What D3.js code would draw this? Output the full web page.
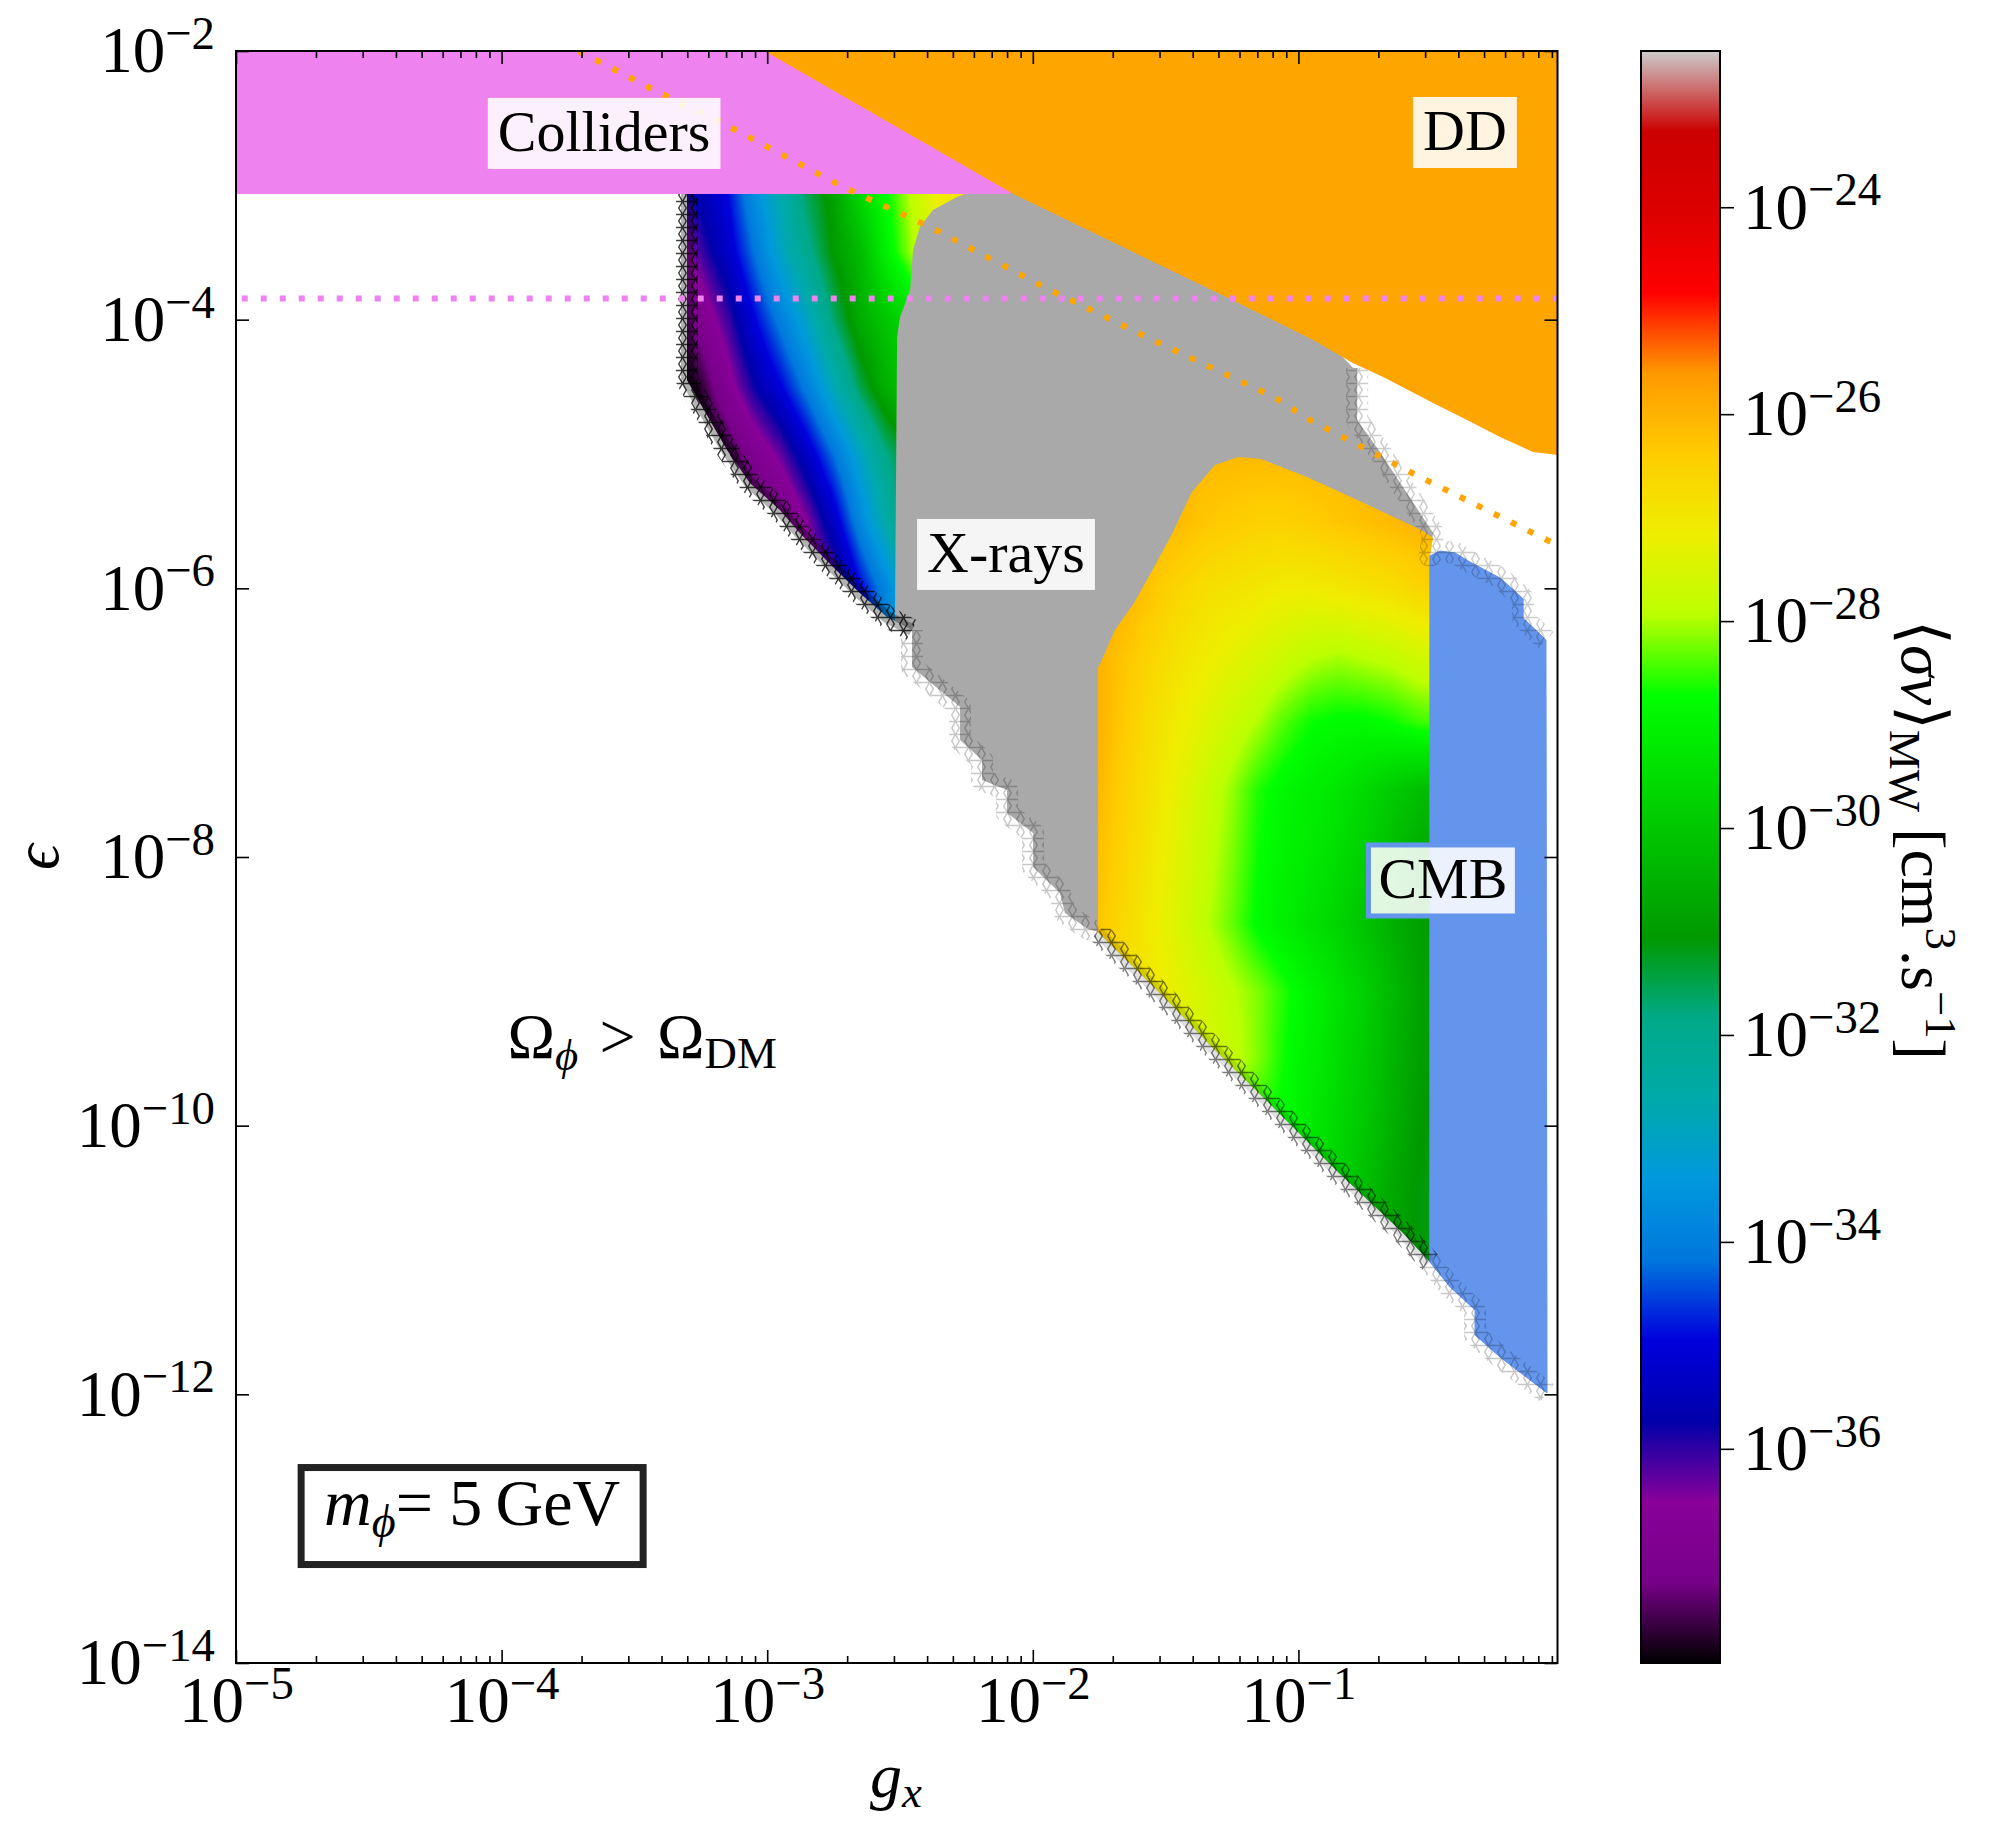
<!DOCTYPE html>
<html>
<head>
<meta charset="utf-8" />
<title>sigma v scan, m_phi = 5 GeV</title>
<script src="https://cdnjs.cloudflare.com/ajax/libs/d3/7.8.5/d3.min.js"></script>
<style>
  body { margin: 0; background: white; }
  svg text { font-family: 'Liberation Serif', 'DejaVu Serif', serif; fill: #000; }
  .axis text { font-size: 65px; }
  .axis line { stroke-width: 1.6px; }
  .label { font-size: 58px; }
  .big { font-size: 64px; }
</style>
</head>
<body>
<svg id="chart" width="1998" height="1830"></svg>
<script>
// ---------- data: pairs are [log10 g_x, log10 epsilon] ----------
const gxLim = [1e-5, 0.945]
const epsLim = [1e-14, 1e-2]
const svLim = [-38.07, -22.49]          // log10 <sigma v> range of the colour bar

const xMajor = [-5, -4, -3, -2, -1]
const yMajor = [-14, -12, -10, -8, -6, -4, -2]
const cbarMajor = [-36, -34, -32, -30, -28, -26, -24]

const colliderEdge = -3.065             // colliders exclude eps above this
const violetLine = -3.842               // dotted collider projection

// direct detection lower edge
const ddEdge = [[-3.01, -2.0], [-2.075, -3.062], [-1.284, -3.821], [-0.945, -4.151], [-0.795, -4.323],
  [-0.681, -4.427], [-0.493, -4.620], [-0.365, -4.747], [-0.241, -4.873], [-0.117, -4.985], [-0.024, -5.008]]

// dotted direct detection projection
const ddProj = [[-3.71, -2.0], [-3.449, -2.268], [-3.140, -2.566], [-2.715, -3.012], [-2.387, -3.310],
  [-1.958, -3.757], [-1.525, -4.174], [-1.092, -4.576], [-0.956, -4.747], [-0.580, -5.134], [-0.026, -5.678]]

// relic density band: upper side (tucked under the DD region)
const bandTop = [[-3.302, -3.065], [-2.09, -3.065], [-2.03, -3.02], [-1.284, -3.78], [-0.87, -4.20], [-0.794, -4.360]]
const edgeUpper = [[-0.779, -4.360], [-0.779, -4.747], [-0.693, -4.985], [-0.599, -5.268], [-0.493, -5.588]]
const cmbOuter = [[-0.505, -5.759], [-0.467, -5.722], [-0.410, -5.737], [-0.354, -5.804], [-0.241, -5.923],
  [-0.177, -6.035], [-0.154, -6.079], [-0.154, -6.221], [-0.068, -6.385], [-0.064, -11.990]]

// relic density band: lower side (where Omega_phi = Omega_DM)
const edgeDark = [[-3.302, -3.065], [-3.302, -4.449], [-3.253, -4.620], [-3.151, -4.970], [-3.065, -5.216],
  [-2.952, -5.417], [-2.877, -5.588], [-2.752, -5.841], [-2.651, -6.035], [-2.549, -6.213], [-2.455, -6.310]]
const edgeFaint = [[-2.455, -6.310], [-2.455, -6.585], [-2.274, -6.883], [-2.274, -7.129], [-2.191, -7.278],
  [-2.191, -7.427], [-2.097, -7.501], [-2.097, -7.672], [-1.999, -7.821], [-1.999, -8.074], [-1.898, -8.268],
  [-1.879, -8.417], [-1.792, -8.536], [-1.755, -8.558]]
const edgeB = [[-1.755, -8.558], [-1.502, -9.049], [-1.333, -9.399], [-1.092, -9.868], [-0.851, -10.345],
  [-0.610, -10.791], [-0.505, -11.015]]
const edgeCmb = [[-0.505, -11.015], [-0.429, -11.201], [-0.335, -11.372], [-0.335, -11.558], [-0.241, -11.722],
  [-0.064, -11.990]]

// allowed islands, outside the X-ray bound
const regionARight = [[-2.519, -6.24], [-2.511, -4.129], [-2.500, -3.980], [-2.462, -3.779], [-2.451, -3.481],
  [-2.425, -3.310], [-2.376, -3.184], [-2.285, -3.087], [-2.255, -3.065]]
const regionBTop = [[-1.755, -6.593], [-1.740, -6.533], [-1.691, -6.310], [-1.619, -6.109], [-1.547, -5.856],
  [-1.476, -5.595], [-1.401, -5.283], [-1.314, -5.082], [-1.227, -5.022], [-1.141, -5.037], [-0.968, -5.171],
  [-0.753, -5.365], [-0.538, -5.566], [-0.493, -5.625], [-0.505, -5.759]]

// log10 <sigma v>_MW on the left island
const gridAx = [-3.35, -3.25, -3.15, -3.05, -2.95, -2.85, -2.75, -2.65, -2.55, -2.45, -2.35, -2.25]
const gridAy = [-3.0, -3.5, -4.0, -4.5, -5.0, -5.5, -6.0, -6.5]
const gridAv = [
  [-36.0, -35.5, -34.9, -33.6, -32.6, -31.5, -30.8, -29.5, -28.7, -27.8, -27.0, -26.8],
  [-37.0, -36.1, -35.3, -34.2, -33.0, -32.0, -31.0, -30.3, -29.0, -28.0, -27.5, -27.2],
  [-37.9, -37.0, -36.1, -35.0, -34.0, -33.0, -31.7, -30.6, -30.0, -29.5, -29.0, -28.8],
  [-38.1, -37.8, -36.8, -35.8, -35.0, -34.0, -32.8, -31.5, -30.5, -30.0, -29.5, -29.3],
  [-38.1, -38.1, -37.8, -37.0, -36.3, -35.3, -34.2, -33.0, -31.8, -31.0, -30.5, -30.3],
  [-38.1, -38.1, -38.0, -37.8, -37.5, -36.5, -35.3, -33.8, -32.5, -31.5, -31.0, -30.8],
  [-38.1, -38.1, -38.0, -37.8, -37.5, -37.0, -36.5, -35.0, -33.8, -32.5, -32.0, -31.8],
  [-38.1, -38.1, -38.0, -37.8, -37.5, -37.0, -36.5, -35.5, -34.0, -33.0, -32.5, -32.3]
]

// log10 <sigma v>_MW on the right island
const gridBx = [-1.85, -1.75, -1.65, -1.55, -1.45, -1.35, -1.25, -1.15, -1.05, -0.95, -0.85, -0.75, -0.65, -0.55, -0.45]
const gridBy = [-5.0, -5.5, -6.0, -6.5, -7.0, -7.5, -8.0, -8.5, -9.0, -9.5, -10.0, -10.5, -11.0, -11.5]
const gridBv = [
  [-26.0, -26.0, -26.0, -26.1, -26.1, -26.1, -26.1, -26.1, -26.1, -26.1, -26.1, -26.0, -26.0, -26.0, -26.0],
  [-26.0, -26.0, -26.0, -26.1, -26.1, -26.3, -26.4, -26.5, -26.5, -26.4, -26.3, -26.2, -26.1, -26.0, -26.0],
  [-25.9, -25.9, -26.0, -26.3, -26.6, -26.8, -26.9, -27.0, -27.1, -27.1, -27.0, -26.9, -26.8, -26.6, -26.5],
  [-26.0, -26.0, -26.3, -26.6, -26.9, -27.1, -27.3, -27.5, -27.7, -27.9, -28.0, -27.9, -27.8, -27.6, -27.5],
  [-26.0, -26.0, -26.4, -26.8, -27.1, -27.4, -27.7, -28.0, -28.4, -28.7, -28.8, -28.8, -28.7, -28.5, -28.4],
  [-26.0, -26.1, -26.5, -26.9, -27.3, -27.7, -28.1, -28.6, -28.9, -29.1, -29.3, -29.6, -29.9, -30.2, -30.3],
  [-26.0, -26.2, -26.6, -27.0, -27.4, -27.8, -28.2, -28.7, -29.0, -29.2, -29.5, -29.8, -30.2, -30.6, -30.8],
  [-26.2, -26.3, -26.7, -27.1, -27.5, -27.9, -28.3, -28.8, -29.1, -29.4, -29.7, -30.1, -30.5, -30.9, -31.0],
  [-26.5, -26.7, -26.9, -27.0, -27.3, -27.6, -27.9, -28.2, -28.6, -29.0, -29.4, -29.8, -30.3, -30.8, -31.0],
  [-27.0, -27.1, -27.2, -27.3, -27.4, -27.5, -27.8, -28.2, -28.7, -29.1, -29.5, -29.9, -30.4, -30.9, -31.1],
  [-27.5, -27.6, -27.7, -27.8, -28.0, -28.2, -28.4, -28.6, -28.8, -29.2, -29.6, -30.0, -30.5, -31.0, -31.2],
  [-28.0, -28.1, -28.2, -28.3, -28.5, -28.7, -28.9, -29.1, -29.4, -29.6, -29.8, -30.2, -30.7, -31.1, -31.2],
  [-28.5, -28.6, -28.7, -28.8, -29.0, -29.2, -29.4, -29.6, -29.8, -30.0, -30.2, -30.5, -30.8, -31.1, -31.2],
  [-28.5, -28.6, -28.7, -28.8, -29.0, -29.2, -29.4, -29.6, -29.8, -30.0, -30.2, -30.5, -30.8, -31.1, -31.2]
]

// nipy_spectral colour map
const nipy = [[0, 0, 0, 0], [0.05, .4667, 0, .5333], [0.1, .5333, 0, .6], [0.15, 0, 0, .6667],
  [0.2, 0, 0, .8667], [0.25, 0, .4667, .8667], [0.3, 0, .6, .8667], [0.35, 0, .6667, .6667],
  [0.4, 0, .6667, .5333], [0.45, 0, .6, 0], [0.5, 0, .7333, 0], [0.55, 0, .8667, 0], [0.6, 0, 1, 0],
  [0.65, .7333, 1, 0], [0.7, .9333, .9333, 0], [0.75, 1, .8, 0], [0.8, 1, .6, 0], [0.85, 1, 0, 0],
  [0.9, .8667, 0, 0], [0.95, .8, 0, 0], [1, .8, .8, .8]]

// ---------- scales ----------
const svg = d3.select('#chart')
const defs = svg.append('defs')

const x = d3.scaleLog().domain(gxLim).range([236, 1557.5])
const y = d3.scaleLog().domain(epsLim).range([1663, 51])
const cb = d3.scaleLog().domain(svLim.map(p => 10 ** p)).range([1663, 51])

const px = d => x(10 ** d[0])
const py = d => y(10 ** d[1])
const line = d3.line().x(px).y(py)
const shape = pts => line(pts) + 'Z'

function cmap(t) {
  t = Math.max(0, Math.min(1, t))
  const i = Math.min(nipy.length - 2, Math.floor(t / 0.05))
  const a = nipy[i], b = nipy[i + 1], f = (t - a[0]) / (b[0] - a[0])
  return [1, 2, 3].map(k => Math.round(255 * (a[k] + f * (b[k] - a[k]))))
}

defs.append('clipPath').attr('id', 'plotArea').append('rect')
  .attr('x', x.range()[0]).attr('y', y.range()[1])
  .attr('width', x.range()[1] - x.range()[0])
  .attr('height', y.range()[0] - y.range()[1])

// tiled asterisks used to paint the scan points along the band edge
const starTile = defs.append('pattern').attr('id', 'stars')
  .attr('patternUnits', 'userSpaceOnUse').attr('width', 13).attr('height', 13)
starTile.append('path')
  .attr('d', d3.range(3).map(k => {
    const a = k * Math.PI / 3, r = 8
    return 'M' + (6.5 - r * Math.cos(a)) + ',' + (6.5 - r * Math.sin(a)) + 'L' + (6.5 + r * Math.cos(a)) + ',' + (6.5 + r * Math.sin(a))
  }).join(''))
  .attr('stroke', '#000').attr('stroke-width', 1.4)

const plot = svg.append('g').attr('clip-path', 'url(#plotArea)')
const lo = Math.log10(gxLim[0]) - 0.05, hi = Math.log10(gxLim[1]) + 0.05

// colliders
plot.append('path')
  .attr('d', shape([[lo, -1.9], [hi, -1.9], [hi, colliderEdge], [lo, colliderEdge]]))
  .attr('fill', 'violet')

// X-ray excluded part of the band (gray), islands drawn on top
const lower = edgeDark.concat(edgeFaint.slice(1), edgeB.slice(1), edgeCmb.slice(1))
const band = bandTop.concat(edgeUpper, cmbOuter, lower.slice().reverse())
plot.append('path').attr('d', shape(band)).attr('fill', 'darkgray')

function sample(gx, gy, gv, lx, ly) {
  let i = Math.max(0, Math.min(gx.length - 2, d3.bisectRight(gx, lx) - 1))
  let j = 0
  while (j < gy.length - 2 && ly < gy[j + 1]) j++
  const fx = Math.max(0, Math.min(1, (lx - gx[i]) / (gx[i + 1] - gx[i])))
  const fy = Math.max(0, Math.min(1, (gy[j] - ly) / (gy[j] - gy[j + 1])))
  const t = gv[j][i] * (1 - fx) + gv[j][i + 1] * fx
  const b = gv[j + 1][i] * (1 - fx) + gv[j + 1][i + 1] * fx
  return t * (1 - fy) + b * fy
}

function heat(gx, gy, gv, poly, id) {
  const x0 = Math.floor(x(10 ** gx[0])), x1 = Math.ceil(x(10 ** gx[gx.length - 1]))
  const y0 = Math.floor(y(10 ** gy[0])), y1 = Math.ceil(y(10 ** gy[gy.length - 1]))
  const w = x1 - x0, h = y1 - y0
  const canvas = document.createElement('canvas')
  canvas.width = w
  canvas.height = h
  const ctx = canvas.getContext('2d')
  const img = ctx.createImageData(w, h)
  for (let r = 0; r < h; r++) {
    const ly = Math.log10(y.invert(y0 + r + 0.5))
    for (let c = 0; c < w; c++) {
      const lx = Math.log10(x.invert(x0 + c + 0.5))
      const v = sample(gx, gy, gv, lx, ly)
      const rgb = cmap((v - svLim[0]) / (svLim[1] - svLim[0]))
      const k = 4 * (r * w + c)
      img.data[k] = rgb[0]
      img.data[k + 1] = rgb[1]
      img.data[k + 2] = rgb[2]
      img.data[k + 3] = 255
    }
  }
  ctx.putImageData(img, 0, 0)
  defs.append('clipPath').attr('id', id).append('path').attr('d', shape(poly))
  plot.append('image')
    .attr('x', x0).attr('y', y0).attr('width', w).attr('height', h)
    .attr('preserveAspectRatio', 'none')
    .attr('href', canvas.toDataURL())
    .attr('clip-path', 'url(#' + id + ')')
}

heat(gridAx, gridAy, gridAv, edgeDark.slice(0, -1).concat(regionARight), 'clipA')
heat(gridBx, gridBy, gridBv, regionBTop.concat(edgeB.slice().reverse()), 'clipB')

// CMB
plot.append('path')
  .attr('d', shape(cmbOuter.concat(edgeCmb.slice().reverse())))
  .attr('fill', 'cornflowerblue')
  .attr('stroke', 'cornflowerblue').attr('stroke-width', 1)

// direct detection
const dd = ddEdge.concat([[hi, ddEdge[ddEdge.length - 1][1]], [hi, -1.9], [ddEdge[0][0], -1.9]])
plot.append('path').attr('d', shape(dd)).attr('fill', 'orange')

// scan points on the relic density boundary
const edges = [
  { pts: edgeDark, op: 0.75, shade: 0.3 },
  { pts: edgeFaint, op: 0.22, shade: 0 },
  { pts: edgeB, op: 0.5, shade: 0.12 },
  { pts: edgeCmb, op: 0.22, shade: 0 },
  { pts: edgeUpper.concat(cmbOuter.slice(0, -1)), op: 0.2, shade: 0 }
]
edges.forEach(e => {
  plot.append('path')
    .attr('d', line(e.pts))
    .attr('fill', 'none')
    .attr('stroke', '#000')
    .attr('stroke-opacity', e.shade)
    .attr('stroke-width', 12)
  plot.append('path')
    .attr('d', line(e.pts))
    .attr('fill', 'none')
    .attr('stroke', 'url(#stars)')
    .attr('stroke-opacity', e.op)
    .attr('stroke-width', 22)
    .attr('stroke-linejoin', 'round')
})

// projections
plot.append('path')
  .attr('d', line(ddProj))
  .attr('fill', 'none').attr('stroke', 'orange')
  .attr('stroke-width', 6).attr('stroke-dasharray', '6 13')
plot.append('path')
  .attr('d', line([[lo, violetLine], [hi, violetLine]]))
  .attr('fill', 'none').attr('stroke', 'violet')
  .attr('stroke-width', 6).attr('stroke-dasharray', '6 13')

// ---------- labels ----------
function boxLabel(pos, str, edge) {
  const g = plot.append('g')
  const t = g.append('text').attr('class', 'label')
    .attr('x', px(pos)).attr('y', py(pos))
    .attr('text-anchor', 'middle').text(str)
  const b = t.node().getBBox()
  g.insert('rect', 'text')
    .attr('x', b.x - 10).attr('y', b.y - 1)
    .attr('width', b.width + 20).attr('height', b.height + 6)
    .attr('fill', 'white').attr('fill-opacity', 0.88)
    .attr('stroke', edge).attr('stroke-width', edge === 'cornflowerblue' ? 5 : 0)
}
boxLabel([-3.614, -2.744], 'Colliders', 'violet')
boxLabel([-0.373, -2.737], 'DD', 'orange')
boxLabel([-2.101, -5.878], 'X-rays', 'darkgray')
boxLabel([-0.456, -8.305], 'CMB', 'cornflowerblue')

const om = plot.append('text').attr('class', 'big')
  .attr('x', px([-3.471, -9.496])).attr('y', py([-3.471, -9.496]))
  .attr('text-anchor', 'middle')
om.append('tspan').text('\u03A9')
om.append('tspan').attr('font-size', '70%').attr('font-style', 'italic').attr('dy', 12).text('\u03D5')
om.append('tspan').attr('dy', -12).text('\u2004>\u2004\u03A9')
om.append('tspan').attr('font-size', '70%').attr('dy', 10).text('DM')

const mPos = [-4.111, -12.973]
const mg = plot.append('g')
mg.append('rect')
  .attr('x', px(mPos) - 171).attr('y', py(mPos) - 57.5)
  .attr('width', 342).attr('height', 97)
  .attr('fill', 'white').attr('stroke', '#222').attr('stroke-width', 7)
const mt = mg.append('text').attr('class', 'big')
  .attr('x', px(mPos)).attr('y', py(mPos))
  .attr('text-anchor', 'middle').style('font-size', '66px')
mt.append('tspan').attr('font-style', 'italic').text('m')
mt.append('tspan').attr('font-size', '70%').attr('font-style', 'italic').attr('dy', 12).text('\u03D5')
mt.append('tspan').attr('dy', -12).text('= 5\u2009GeV')

// ---------- axes ----------
function decade(sel) {
  sel.each(function (d) {
    const t = d3.select(this), e = Math.round(Math.log10(d))
    t.text(null)
    t.append('tspan').text('10')
    t.append('tspan').attr('font-size', '72%').attr('dy', '-0.5em').text('\u2212' + Math.abs(e))
  })
}
const isMajor = v => Math.abs(Math.log10(v) - Math.round(Math.log10(v))) < 1e-6
const xMinor = x.ticks().filter(v => !isMajor(v))
const xTicks = xMajor.map(e => 10 ** e)
const yTicks = yMajor.map(e => 10 ** e)

const axBottom = svg.append('g').attr('class', 'axis').attr('transform', 'translate(0,' + y.range()[0] + ')')
axBottom.call(d3.axisBottom(x).tickValues(xTicks).tickSizeInner(-13).tickSizeOuter(0).tickPadding(13))
axBottom.selectAll('.tick text').call(decade)
axBottom.append('g').call(d3.axisBottom(x).tickValues(xMinor).tickSizeInner(-7).tickSizeOuter(0).tickFormat(''))

const axTop = svg.append('g').attr('class', 'axis').attr('transform', 'translate(0,' + y.range()[1] + ')')
axTop.call(d3.axisTop(x).tickValues(xTicks).tickSizeInner(-13).tickSizeOuter(0).tickFormat(''))
axTop.append('g').call(d3.axisTop(x).tickValues(xMinor).tickSizeInner(-7).tickSizeOuter(0).tickFormat(''))

const axLeft = svg.append('g').attr('class', 'axis').attr('transform', 'translate(' + x.range()[0] + ',0)')
axLeft.call(d3.axisLeft(y).tickValues(yTicks).tickSizeInner(-13).tickSizeOuter(0).tickPadding(21))
axLeft.selectAll('.tick text').call(decade)

svg.append('g').attr('class', 'axis').attr('transform', 'translate(' + x.range()[1] + ',0)')
  .call(d3.axisRight(y).tickValues(yTicks).tickSizeInner(-13).tickSizeOuter(0).tickFormat(''))

svg.selectAll('.axis .domain').remove()

svg.append('rect')
  .attr('x', x.range()[0]).attr('y', y.range()[1])
  .attr('width', x.range()[1] - x.range()[0]).attr('height', y.range()[0] - y.range()[1])
  .attr('fill', 'none').attr('stroke', '#000').attr('stroke-width', 2)

// axis titles
const xl = svg.append('text').attr('class', 'big').attr('x', 896).attr('y', 1797).attr('text-anchor', 'middle')
xl.append('tspan').attr('font-style', 'italic').text('g')
xl.append('tspan').attr('font-style', 'italic').attr('font-size', '70%').attr('dy', 10).text('x')

svg.append('text').attr('class', 'big').attr('font-style', 'italic')
  .attr('transform', 'translate(58,857) rotate(-90)').attr('text-anchor', 'middle').text('\u03F5')

// ---------- colour bar ----------
const grad = defs.append('linearGradient').attr('id', 'cgrad')
  .attr('x1', 0).attr('y1', 1).attr('x2', 0).attr('y2', 0)
grad.selectAll('stop').data(nipy).join('stop')
  .attr('offset', d => d[0])
  .attr('stop-color', d => d3.rgb(255 * d[1], 255 * d[2], 255 * d[3]))

svg.append('rect')
  .attr('x', 1641).attr('y', cb.range()[1]).attr('width', 79).attr('height', cb.range()[0] - cb.range()[1])
  .attr('fill', 'url(#cgrad)').attr('stroke', '#000').attr('stroke-width', 2)

const cax = svg.append('g').attr('class', 'axis').attr('transform', 'translate(1720,0)')
cax.call(d3.axisRight(cb).tickValues(cbarMajor.map(e => 10 ** e)).tickSizeInner(14).tickSizeOuter(0).tickPadding(9))
cax.select('.domain').remove()
cax.selectAll('.tick text').call(decade)

const cl = svg.append('text').attr('class', 'big')
  .attr('transform', 'translate(1902,840) rotate(90)').attr('text-anchor', 'middle')
cl.append('tspan').text('\u27E8')
cl.append('tspan').attr('font-style', 'italic').text('\u03C3v')
cl.append('tspan').text('\u27E9')
cl.append('tspan').attr('font-size', '70%').attr('dy', 12).text('MW')
cl.append('tspan').attr('dy', -12).text(' [cm')
cl.append('tspan').attr('font-size', '70%').attr('dy', -24).text('3')
cl.append('tspan').attr('dy', 24).text('.s')
cl.append('tspan').attr('font-size', '70%').attr('dy', -24).text('\u22121')
cl.append('tspan').attr('dy', 24).text(']')
</script>
</body>
</html>
